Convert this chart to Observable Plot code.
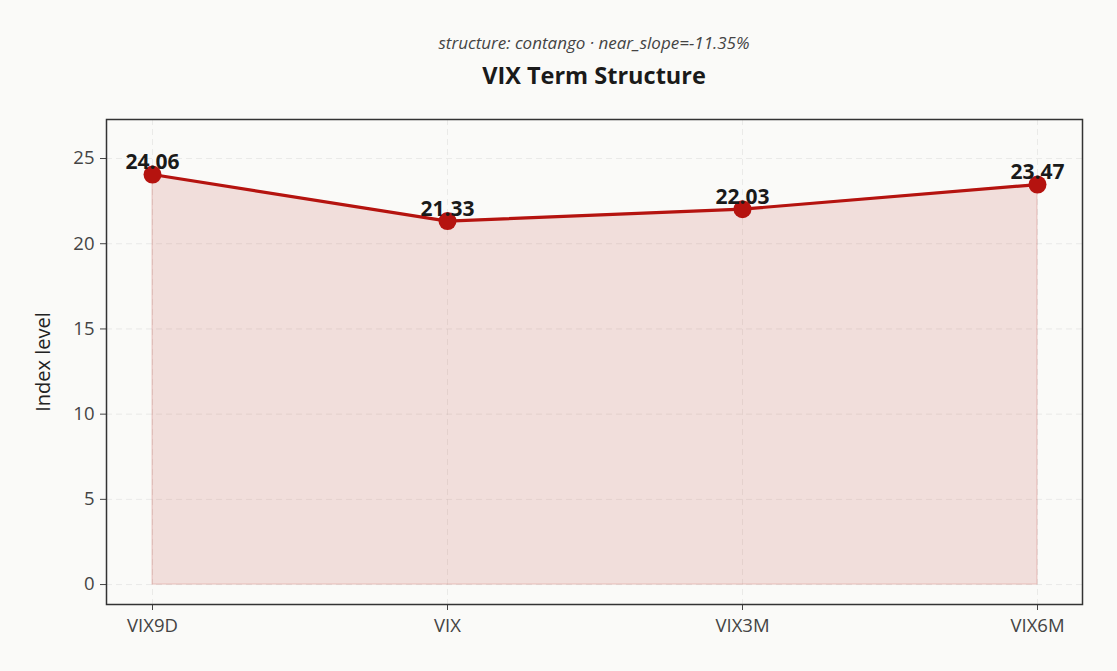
<!DOCTYPE html>
<html><head><meta charset="utf-8">
<script src="https://cdn.jsdelivr.net/npm/d3@7"></script>
<script src="https://cdn.jsdelivr.net/npm/@observablehq/plot@0.6"></script>
<style>
body{margin:0;background:#fafaf8;font-family:"Open Sans","Noto Sans",sans-serif;}
#wrap{position:relative;width:1117px;height:671px;}
#sub{position:absolute;left:0;width:1188px;top:31px;text-align:center;font-style:italic;font-size:17px;color:#444;}
#title{position:absolute;left:0;width:1188px;top:59px;text-align:center;font-weight:bold;font-size:23.5px;color:#1a1a1a;}
#chart{position:absolute;left:0;top:100px;}
</style></head>
<body><div id="wrap"><div id="sub">structure: contango · near_slope=-11.35%</div><div id="title">VIX Term Structure</div><div id="chart"></div></div>
<script>
const tenors = ["VIX9D","VIX","VIX3M","VIX6M"];
const levels = [24.06, 21.33, 22.03, 23.47];
const yTicks = [0,5,10,15,20,25];
const data = tenors.map((t,i)=>({tenor:t, level:levels[i], label:levels[i].toFixed(2)}));
const red = "#b5130f";
const plot = Plot.plot({
  width:1117, height:571,
  marginLeft:106, marginRight:35, marginTop:19, marginBottom:67,
  style:{background:"transparent", fontFamily:"'Open Sans','Noto Sans',sans-serif", fontSize:"18px", color:"#444"},
  x:{type:"point", domain:tenors, padding:0.15, label:null},
  y:{domain:[-1.17,27.29], ticks:yTicks, label:null},
  marks:[
    Plot.gridX(tenors,{stroke:"#ccc", strokeOpacity:0.35, strokeDasharray:"6,4"}),
    Plot.gridY(yTicks,{stroke:"#ccc", strokeOpacity:0.35, strokeDasharray:"6,4"}),
    Plot.areaY(data,{x:"tenor", y1:0, y2:"level", fill:"#c0392b", fillOpacity:0.14, stroke:"#c0392b", strokeOpacity:0.2, strokeWidth:1.2}),
    Plot.line(data,{x:"tenor", y:"level", stroke:red, strokeWidth:3.2}),
    Plot.dot(data,{x:"tenor", y:"level", r:9, fill:red, stroke:"none"}),
    Plot.text(data,{x:"tenor", y:"level", text:"label", dy:-12, fontSize:21, fontWeight:"bold", fill:"#1a1a1a"}),
    Plot.axisY(yTicks,{tickSize:6, tickPadding:6, stroke:"#444", fill:"#444", fontSize:18.5, label:null}),
    Plot.axisX(tenors,{tickSize:6, tickPadding:8, stroke:"#444", fill:"#444", fontSize:18.5, label:null}),
    Plot.frame({stroke:"#333", strokeWidth:1.5}),
    Plot.text(["Index level"],{frameAnchor:"left", textAnchor:"middle", dx:-63, rotate:-90, fontSize:20, fill:"#222"})
  ]
});
document.getElementById("chart").appendChild(plot);
</script></body></html>
